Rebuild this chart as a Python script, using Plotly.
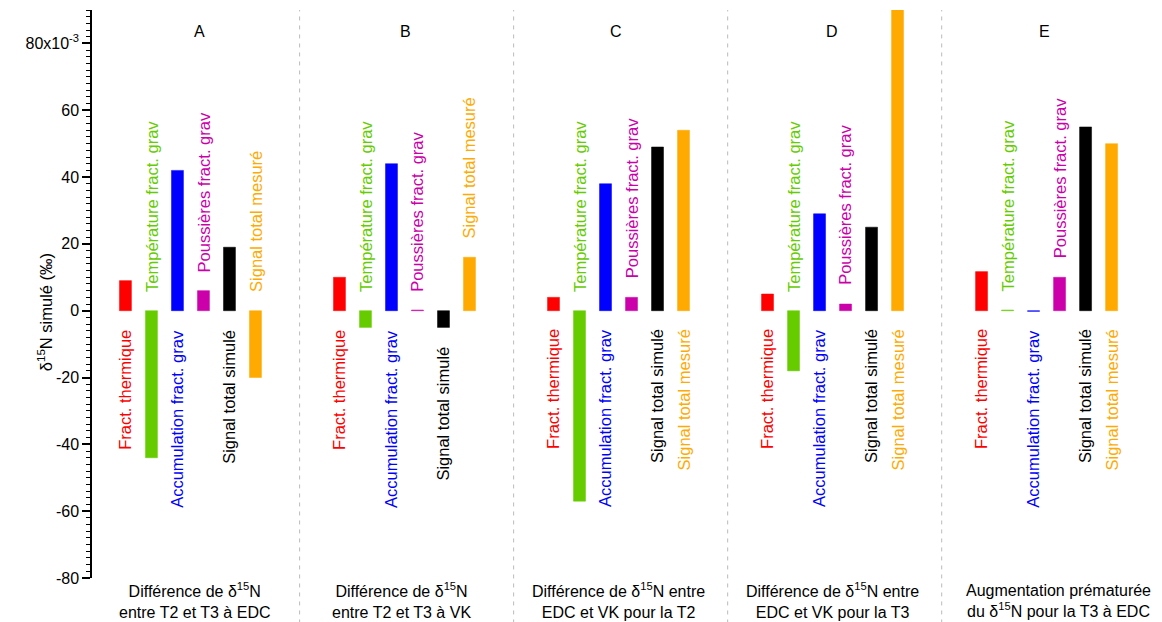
import plotly.graph_objects as go

# ---- data (x10^-3, i.e. per mil) ----
groups = ["A", "B", "C", "D", "E"]
group_labels = [
    "Différence de δ<sup>15</sup>N<br>entre T2 et T3 à EDC",
    "Différence de δ<sup>15</sup>N<br>entre T2 et T3 à VK",
    "Différence de δ<sup>15</sup>N entre<br>EDC et VK pour la T2",
    "Différence de δ<sup>15</sup>N entre<br>EDC et VK pour la T3",
    "Augmentation prématurée<br>du δ<sup>15</sup>N pour la T3 à EDC",
]
series_names = [
    "Fract. thermique",
    "Température fract. grav",
    "Accumulation fract. grav",
    "Poussières fract. grav",
    "Signal total simulé",
    "Signal total mesuré",
]
series_colors = ["#FF0000", "#66CC00", "#0000FF", "#CC00AA", "#000000", "#FFAA00"]

fract_thermique = [9, 10, 4, 5, 11.7]
temperature_grav = [-44, -5, -57, -18, 0.2]
accumulation_grav = [42, 44, 38, 29, -0.2]
poussieres_grav = [6, 0.2, 4, 2, 10]
signal_simule = [19, -5, 49, 25, 55]
signal_mesure = [-20, 16, 54, 95, 50]
series_values = [fract_thermique, temperature_grav, accumulation_grav,
                 poussieres_grav, signal_simule, signal_mesure]

# label placement: 'a' above the bar / zero, 'b' below
label_side = [
    ["b", "a", "b", "a", "b", "a"],
    ["b", "a", "b", "a", "b", "a"],
    ["b", "a", "b", "a", "b", "b"],
    ["b", "a", "b", "a", "b", "b"],
    ["b", "a", "b", "a", "b", "b"],
]

y_ticks = [-80, -60, -40, -20, 0, 20, 40, 60, 80]
y_ticktext = ["-80", "-60", "-40", "-20", "0", "20", "40", "60", "80x10<sup>-3</sup>"]

# ---- layout parameters ----
FONT = "Liberation Sans, Arial, sans-serif"
step = 0.1215
bar_w = 0.056
gap = 5.0
letter_shift = [0.044, 0.007, -0.012, -0.002, -0.012]
caption_shift = [0.02, -0.016, -0.002, -0.002, 0.058]

fig = go.Figure()
annotations = []
for j, (name, col, vals) in enumerate(zip(series_names, series_colors, series_values)):
    xs = [g + (j - 2.5) * step for g in range(len(groups))]
    fig.add_trace(go.Bar(
        x=xs, y=vals, width=bar_w, name=name,
        marker=dict(color=col, line=dict(color=col, width=0.5)),
        showlegend=False,
    ))
    for g, v in enumerate(vals):
        side = label_side[g][j]
        if side == "a":
            y = max(v, 0) + gap
            ya = "bottom"
        else:
            y = min(v, 0) - gap
            ya = "top"
        annotations.append(dict(
            x=xs[g], y=y, xref="x", yref="y", text=name, textangle=-90,
            showarrow=False, xanchor="center", yanchor=ya,
            font=dict(family=FONT, size=16.5, color=col),
        ))

shapes = []
for g in range(len(groups) - 1):
    shapes.append(dict(
        type="line", xref="x", yref="paper", x0=g + 0.51, x1=g + 0.51,
        y0=-0.08, y1=1.0,
        line=dict(color="#BBBBBB", width=1, dash="4px,5px"),
    ))

for g, (letter, lab) in enumerate(zip(groups, group_labels)):
    annotations.append(dict(
        x=g + letter_shift[g], y=0.962, xref="x", yref="paper", text=letter,
        showarrow=False, xanchor="center", yanchor="middle",
        font=dict(family=FONT, size=16, color="black"),
    ))
    annotations.append(dict(
        x=g + caption_shift[g], y=-0.04, xref="x", yref="paper", text=lab,
        showarrow=False, xanchor="center", yanchor="middle",
        font=dict(family=FONT, size=16, color="black"),
    ))

annotations.append(dict(
    x=-0.044, y=0.468, xref="paper", yref="paper",
    text="δ<sup>15</sup>N simulé (‰)", textangle=-90,
    showarrow=False, xanchor="center", yanchor="middle",
    font=dict(family=FONT, size=16.5, color="black"),
))

fig.update_layout(
    width=1162, height=622,
    margin=dict(l=92, r=2, t=10, b=44),
    paper_bgcolor="white", plot_bgcolor="white",
    barmode="overlay",
    font=dict(family=FONT, size=16, color="black"),
    shapes=shapes, annotations=annotations,
    xaxis=dict(range=[-0.46, 4.53], showticklabels=False, showgrid=False,
               zeroline=False, showline=False, ticks=""),
    yaxis=dict(range=[-80, 90], tickvals=y_ticks, ticktext=y_ticktext,
               showgrid=False, zeroline=False, showline=True,
               linecolor="black", linewidth=1.5, ticks="outside", ticklen=8,
               tickwidth=1.5, tickcolor="black",
               minor=dict(dtick=2, ticks="outside", ticklen=4, tickcolor="black", tickwidth=1),
               tickfont=dict(family=FONT, size=16)),
)

fig.write_html("out.html", config={"displayModeBar": False},
               post_script="document.body.style.margin='0';")
